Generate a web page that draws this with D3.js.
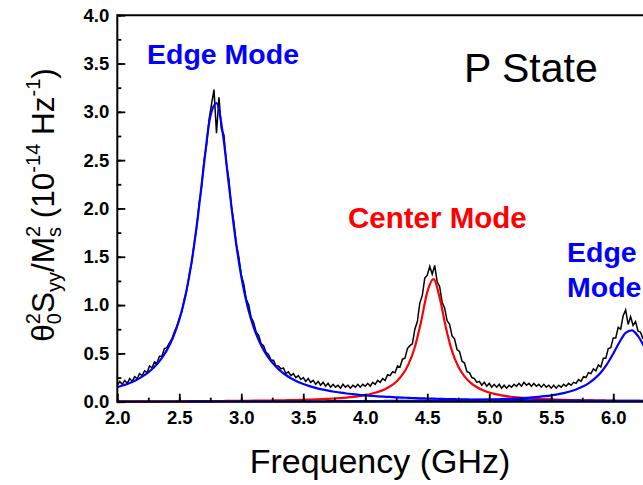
<!DOCTYPE html>
<html><head><meta charset="utf-8">
<script src="https://cdn.jsdelivr.net/npm/d3@7"></script>
<style>body{margin:0;background:#fff}svg{display:block}</style>
</head><body>
<div id="chart"></div>
<script>
// ---- data ----
const xTicks = [2.0, 2.5, 3.0, 3.5, 4.0, 4.5, 5.0, 5.5, 6.0];
const yTicks = [0.0, 0.5, 1.0, 1.5, 2.0, 2.5, 3.0, 3.5, 4.0];
const xTickLabels = ["2.0","2.5","3.0","3.5","4.0","4.5","5.0","5.5","6.0"];
const yTickLabels = ["0.0","0.5","1.0","1.5","2.0","2.5","3.0","3.5","4.0"];

// measured spectrum (GHz grid start / step)
const specStart = 2.0, specStep = 0.02;
const spectrum = [
 .17,.21,.18,.22,.19,.24,.21,.26,.24,.29,.27,.32,.30,.37,.35,.41,.40,.47,.47,.55,.56,
 .61,.65,.72,.78,.86,.93,1.06,1.15,1.31,1.44,1.64,1.80,2.05,2.22,2.50,2.66,2.92,3.08,3.23,2.78,
 3.15,2.82,2.76,2.46,2.30,2.02,1.86,1.63,1.50,1.31,1.22,1.06,1.00,.87,.82,.72,.69,.60,.58,.51,
 .49,.43,.43,.37,.37,
 .34,.35,.29,.31,.27,.29,.25,.27,.23,.25,.21,.24,.20,.22,.18,.21,.17,.20,.16,.19,
 .15,.18,.15,.17,.14,.18,.15,.17,.14,.17,.15,.18,.15,.18,.16,.19,.16,.20,.18,.22,
 .20,.24,.22,.28,.27,
 .31,.30,.37,.36,.44,.45,.55,.58,.60,.75,.83,1.02,1.10,1.28,1.31,1.40,1.32,1.41,1.24,1.19,
 1.03,.97,.84,.80,.68,.65,.54,.52,.42,.40,.31,.30,.25,.24,.20,
 .21,.17,.20,.16,.19,.15,.18,.15,.18,.14,.17,.14,.17,.15,.18,.16,.19,.16,.20,.17,
 .19,.16,.19,.16,.18,.15,.18,.15,.17,.14,.17,.14,.17,.15,.18,.16,.19,.17,.20,.19,
 .23,.21,.26,.25,.30,.29,.34,.32,.38,.36,.45,.45,.55,.56,.66,.66,.77,.75,.89,.95,
 .80,.88,.79,.83,.73,.72,.65
];

// Lorentzian fit components (GHz grid start / step)
const fitStart = 2.0, fitStep = 0.05;
const edgeFitLow = [
 .150,.170,.193,.223,.259,.304,.361,.436,.534,.667,.848,1.100,1.449,1.915,2.468,2.951,3.091,2.784,2.243,1.715,1.296,
 .989,.769,.609,.492,.404,.337,.284,.243,.210,.183,.161,.143,.127,.114,.103,.093,.085,.078,.071,.066,
 .061,.056,.052,.049,.045,.042,.040,.037,.035,.033,.031,.030,.028,.027,.025,.024,.023,.022,.021,.020,
 .019,.018,.0175,.0168,.016,.0155,.015,.0145,.014,.0135,.013,.0125,.012,.0117,.0113,.011,.0106,.0103,.010,.0097,
 .0094,.0092,.009,.0087,.0085
];
const centerFit = [
 .0033,.0034,.0036,.0037,.0039,.0041,.0042,.0044,.0047,.0049,.0051,.0054,.0056,.0060,.0063,.0066,.0070,.0074,.0079,.0084,.0089,
 .0095,.0102,.0109,.0118,.0127,.0137,.0149,.0162,.0177,.0194,.0213,.0236,.0262,.0294,.0331,.0376,.0429,.0496,.0579,.0684,
 .0819,.0998,.124,.158,.207,.279,.391,.566,.828,1.134,1.268,1.077,.769,.524,.364,.262,.195,.150,.119,.0958,
 .0789,.0660,.0560,.0481,.0418,.0366,.0323,.0287,.0257,.0231,.0209,.0190,.0173,.0159,.0146,.0135,.0125,.0116,.0108,.0101,
 .0094,.0088,.0083,.0078,.0073
];
const edgeFitHigh = [
 .0017,.0018,.0018,.0019,.0019,.0020,.0020,.0021,.0021,.0022,.0022,.0023,.0024,.0024,.0025,.0026,.0026,.0027,.0028,.0029,.0030,
 .0031,.0032,.0033,.0034,.0035,.0037,.0038,.0039,.0041,.0042,.0044,.0046,.0048,.0050,.0052,.0054,.0056,.0059,.0062,.0064,
 .0068,.0071,.0075,.0079,.0083,.0087,.0092,.0098,.0104,.0110,.0117,.0125,.0134,.0140,.0150,.0161,.0174,.0188,.0203,.0221,
 .0241,.0264,.0290,.0320,.0356,.0397,.0446,.0504,.0574,.0658,.0763,.0893,.106,.127,.154,.190,.239,.303,.389,.497,
 .615,.712,.738,.679,.568
];

// ---- layout ----
const W = 643, H = 485;
const x = d3.scaleLinear().domain([2.0, 6.24]).range([117.3, 643]);
const y = d3.scaleLinear().domain([0, 4]).range([401.7, 15.2]);
const FONT = "'Liberation Sans', Arial, sans-serif";

const svg = d3.select("#chart").append("svg").attr("width", W).attr("height", H)
  .style("font-family", FONT);

svg.append("defs").append("clipPath").attr("id", "clip")
  .append("rect").attr("x", x(2.0)).attr("y", y(4) - 1).attr("width", W - x(2.0)).attr("height", y(0) - y(4) + 2);

const toPts = (arr, start, step) => arr.map((v, i) => [start + i * step, v]);

const plot = svg.append("g").attr("clip-path", "url(#clip)");
const lineLin = d3.line().x(d => x(d[0])).y(d => y(d[1]));
const lineSmooth = d3.line().x(d => x(d[0])).y(d => y(d[1])).curve(d3.curveMonotoneX);

plot.append("path").datum(toPts(spectrum, specStart, specStep))
  .attr("d", lineLin).attr("fill", "none").attr("stroke", "#000").attr("stroke-width", 1.5)
  .attr("stroke-linejoin", "miter");
plot.append("path").datum(toPts(centerFit, fitStart, fitStep))
  .attr("d", lineSmooth).attr("fill", "none").attr("stroke", "#ff0000").attr("stroke-width", 2.2);
plot.append("path").datum(toPts(edgeFitHigh, fitStart, fitStep))
  .attr("d", lineSmooth).attr("fill", "none").attr("stroke", "#0000ff").attr("stroke-width", 2.2);
plot.append("path").datum(toPts(edgeFitLow, fitStart, fitStep))
  .attr("d", lineSmooth).attr("fill", "none").attr("stroke", "#0000ff").attr("stroke-width", 2.2);

// ---- axes ----
const xMinor = d3.range(2.0, 6.26, 0.25);
const yMinor = d3.range(0, 4.01, 0.25);

const xAxisMinor = d3.axisBottom(x).tickValues(xMinor).tickSize(-4).tickFormat("");
const xAxis = d3.axisBottom(x).tickValues(xTicks).tickSize(-8).tickPadding(9)
  .tickFormat((d, i) => xTickLabels[i]);
const yAxisMinor = d3.axisLeft(y).tickValues(yMinor).tickSize(-4).tickFormat("");
const yAxis = d3.axisLeft(y).tickValues(yTicks).tickSize(-8).tickPadding(8)
  .tickFormat((d, i) => yTickLabels[i]);

function style(g) {
  g.select(".domain").remove();
  g.selectAll(".tick line").attr("stroke", "#000").attr("stroke-width", 1.8);
  g.selectAll(".tick text").attr("fill", "#000").style("font-size", "18.5px").style("font-weight", "bold")
    .style("font-family", FONT);
}
svg.append("g").attr("transform", `translate(0,${y(0)})`).call(xAxisMinor).call(style);
svg.append("g").attr("transform", `translate(0,${y(0)})`).call(xAxis).call(style);
svg.append("g").attr("transform", `translate(${x(2.0)},0)`).call(yAxisMinor).call(style);
svg.append("g").attr("transform", `translate(${x(2.0)},0)`).call(yAxis).call(style);

// frame lines
svg.append("line").attr("x1", x(2.0)).attr("x2", W).attr("y1", y(0)).attr("y2", y(0)).attr("stroke", "#000").attr("stroke-width", 2);
svg.append("line").attr("x1", x(2.0)).attr("x2", W).attr("y1", y(4)).attr("y2", y(4)).attr("stroke", "#000").attr("stroke-width", 2);
svg.append("line").attr("x1", x(2.0)).attr("x2", x(2.0)).attr("y1", y(4) - 1).attr("y2", y(0) + 1).attr("stroke", "#000").attr("stroke-width", 2);

// ---- titles ----
svg.append("text").attr("x", 380).attr("y", 473).attr("text-anchor", "middle")
  .style("font-size", "34px").text("Frequency (GHz)");

const yl = svg.append("text").attr("transform", "translate(54,205) rotate(-90)")
  .attr("text-anchor", "middle").style("font-size", "31.5px");
yl.append("tspan").text("θ");
yl.append("tspan").attr("dy", 7).style("font-size", "20px").text("0");
yl.append("tspan").attr("dx", -11).attr("dy", -21).style("font-size", "20px").text("2");
yl.append("tspan").attr("dy", 14).text("S");
yl.append("tspan").attr("dy", 7).style("font-size", "20px").text("yy");
yl.append("tspan").attr("dy", -7).text("/M");
yl.append("tspan").attr("dy", -14).style("font-size", "20px").text("2");
yl.append("tspan").attr("dx", -11).attr("dy", 21).style("font-size", "20px").text("s");
yl.append("tspan").attr("dy", -7).text(" (10");
yl.append("tspan").attr("dy", -14).style("font-size", "20px").text("-14");
yl.append("tspan").attr("dy", 14).text(" Hz");
yl.append("tspan").attr("dy", -14).style("font-size", "20px").text("-1");
yl.append("tspan").attr("dy", 14).text(")");

// ---- annotations ----
svg.append("text").attr("x", 147).attr("y", 64).attr("fill", "#0000ff")
  .style("font-size", "28.5px").style("font-weight", "bold").text("Edge Mode");
svg.append("text").attr("x", 348).attr("y", 228).attr("fill", "#ff0000")
  .style("font-size", "29.5px").style("font-weight", "bold").text("Center Mode");
svg.append("text").attr("x", 567).attr("y", 262).attr("fill", "#0000ff")
  .style("font-size", "28.5px").style("font-weight", "bold").text("Edge");
svg.append("text").attr("x", 567).attr("y", 297).attr("fill", "#0000ff")
  .style("font-size", "28.5px").style("font-weight", "bold").text("Mode");
svg.append("text").attr("x", 464).attr("y", 82).attr("fill", "#000")
  .style("font-size", "41px").text("P State");
</script>
</body></html>
